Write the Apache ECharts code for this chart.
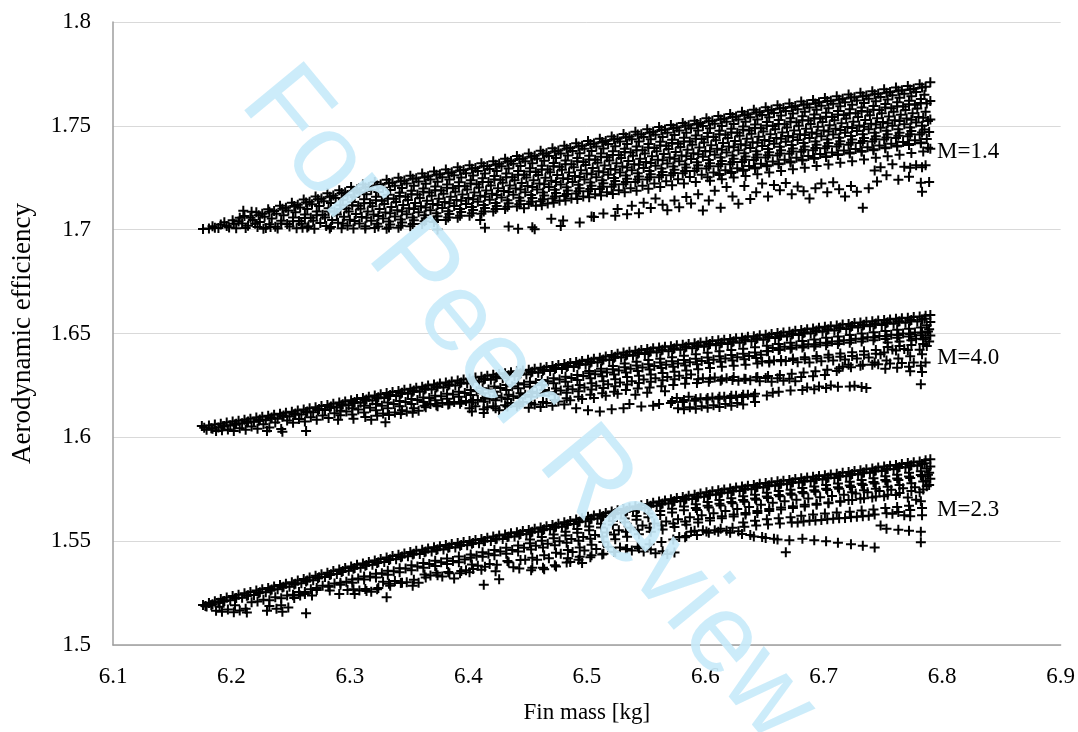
<!DOCTYPE html>
<html>
<head>
<meta charset="utf-8">
<script src="https://cdn.jsdelivr.net/npm/echarts@6/dist/echarts.min.js"></script>
<style>html,body{margin:0;padding:0;background:#fff}#chart{width:1078px;height:732px}</style>
</head>
<body>
<div id="chart"></div>
<script>
var xTicks = ['6.1','6.2','6.3','6.4','6.5','6.6','6.7','6.8','6.9'];
var yTicks = ['1.5','1.55','1.6','1.65','1.7','1.75','1.8'];
var groupNames = ['M=1.4','M=4.0','M=2.3'];

// M=1.4 cloud
var m14 = [
[6.176,1.7003],[6.181,1.7006],[6.186,1.7009],[6.184,1.7016],[6.191,1.7025],[6.189,1.7008],[6.196,1.7018],[6.194,1.7036],
[6.201,1.7045],[6.198,1.7010],[6.202,1.7029],[6.206,1.7039],[6.204,1.7007],[6.207,1.7057],
[6.211,1.7066],[6.209,1.7030],[6.212,1.7008],[6.210,1.7091],[6.216,1.7057],[6.214,1.7019],[6.217,1.7086],
[6.221,1.7084],[6.218,1.7047],[6.222,1.7013],[6.220,1.7029],[6.226,1.7077],[6.224,1.7037],[6.227,1.7005],
[6.231,1.7098],[6.228,1.7062],[6.232,1.7026],[6.229,1.7008],[6.236,1.7090],[6.234,1.7054],[6.237,1.7014],
[6.241,1.7115],[6.238,1.7077],[6.242,1.7043],[6.239,1.7006],[6.246,1.7105],[6.244,1.7069],[6.247,1.7027],
[6.251,1.7130],[6.248,1.7092],[6.252,1.7058],[6.249,1.7015],[6.256,1.7120],[6.254,1.7084],[6.257,1.7042],[6.255,1.7007],
[6.261,1.7145],[6.258,1.7107],[6.262,1.7073],[6.259,1.7028],[6.260,1.7009],[6.266,1.7135],[6.264,1.7099],[6.267,1.7057],[6.265,1.7017],
[6.271,1.7160],[6.268,1.7122],[6.272,1.7088],[6.269,1.7043],[6.270,1.7004],[6.276,1.7150],[6.274,1.7114],[6.277,1.7072],[6.275,1.7032],
[6.281,1.7175],[6.278,1.7137],[6.282,1.7103],[6.279,1.7058],[6.280,1.7018],[6.286,1.7165],[6.284,1.7129],[6.287,1.7087],[6.285,1.7047],[6.283,1.7006],
[6.291,1.7190],[6.288,1.7152],[6.292,1.7118],[6.289,1.7073],[6.290,1.7033],[6.293,1.7007],[6.296,1.7180],[6.294,1.7144],[6.297,1.7102],[6.295,1.7062],[6.298,1.7019],
[6.301,1.7205],[6.298,1.7167],[6.302,1.7133],[6.299,1.7088],[6.300,1.7048],[6.303,1.7006],[6.306,1.7193],[6.304,1.7157],[6.307,1.7115],[6.305,1.7075],[6.308,1.7030],
[6.311,1.7218],[6.308,1.7180],[6.312,1.7146],[6.309,1.7101],[6.310,1.7061],[6.313,1.7017],[6.316,1.7206],[6.314,1.7170],[6.317,1.7128],[6.315,1.7088],[6.318,1.7043],[6.313,1.7006],
[6.321,1.7230],[6.318,1.7192],[6.322,1.7158],[6.319,1.7113],[6.320,1.7073],[6.323,1.7029],[6.321,1.7008],[6.326,1.7217],[6.324,1.7181],[6.327,1.7139],[6.325,1.7099],[6.328,1.7054],[6.324,1.7015],
[6.331,1.7240],[6.328,1.7202],[6.332,1.7168],[6.329,1.7123],[6.330,1.7083],[6.333,1.7039],[6.331,1.7005],[6.336,1.7227],[6.334,1.7191],[6.337,1.7149],[6.335,1.7109],[6.338,1.7064],[6.334,1.7025],
[6.341,1.7250],[6.338,1.7212],[6.342,1.7178],[6.339,1.7133],[6.340,1.7093],[6.343,1.7049],[6.341,1.7009],[6.346,1.7237],[6.344,1.7201],[6.347,1.7159],[6.345,1.7119],[6.348,1.7074],[6.344,1.7035],
[6.351,1.7260],[6.348,1.7222],[6.352,1.7188],[6.349,1.7143],[6.350,1.7103],[6.353,1.7059],[6.351,1.7017],[6.356,1.7247],[6.354,1.7211],[6.357,1.7169],[6.355,1.7129],[6.358,1.7084],[6.354,1.7045],
[6.361,1.7270],[6.358,1.7232],[6.362,1.7198],[6.359,1.7153],[6.360,1.7113],[6.363,1.7069],[6.361,1.7027],[6.366,1.7257],[6.364,1.7221],[6.367,1.7179],[6.365,1.7139],[6.368,1.7094],[6.364,1.7055],
[6.371,1.7280],[6.368,1.7242],[6.372,1.7208],[6.369,1.7163],[6.370,1.7123],[6.373,1.7079],[6.371,1.7037],[6.374,1.7001],[6.376,1.7267],[6.374,1.7231],[6.377,1.7189],[6.375,1.7149],[6.378,1.7104],[6.374,1.7065],
[6.381,1.7290],[6.378,1.7252],[6.382,1.7218],[6.379,1.7173],[6.380,1.7133],[6.383,1.7089],[6.381,1.7047],[6.386,1.7277],[6.384,1.7241],[6.387,1.7199],[6.385,1.7159],[6.388,1.7114],[6.384,1.7075],
[6.391,1.7300],[6.388,1.7262],[6.392,1.7228],[6.389,1.7183],[6.390,1.7143],[6.393,1.7099],[6.391,1.7057],[6.396,1.7287],[6.394,1.7251],[6.397,1.7209],[6.395,1.7169],[6.398,1.7124],[6.394,1.7085],
[6.401,1.7310],[6.398,1.7272],[6.402,1.7238],[6.399,1.7193],[6.400,1.7153],[6.403,1.7109],[6.401,1.7067],[6.406,1.7297],[6.404,1.7261],[6.407,1.7219],[6.405,1.7179],[6.408,1.7134],[6.404,1.7095],
[6.411,1.7320],[6.408,1.7282],[6.412,1.7248],[6.409,1.7203],[6.410,1.7163],[6.413,1.7119],[6.411,1.7077],[6.410,1.7046],[6.414,1.7009],[6.416,1.7307],[6.414,1.7271],[6.417,1.7229],[6.415,1.7189],[6.418,1.7144],[6.414,1.7104],
[6.421,1.7330],[6.418,1.7292],[6.422,1.7258],[6.419,1.7213],[6.420,1.7173],[6.423,1.7129],[6.421,1.7087],[6.426,1.7318],[6.424,1.7282],[6.427,1.7240],[6.425,1.7200],[6.428,1.7155],[6.424,1.7114],
[6.431,1.7342],[6.428,1.7305],[6.432,1.7271],[6.429,1.7226],[6.430,1.7186],[6.433,1.7142],[6.431,1.7100],[6.434,1.7015],[6.436,1.7331],[6.434,1.7295],[6.437,1.7253],[6.435,1.7213],[6.438,1.7168],[6.434,1.7127],
[6.441,1.7355],[6.438,1.7317],[6.442,1.7283],[6.439,1.7238],[6.440,1.7198],[6.443,1.7154],[6.441,1.7112],[6.442,1.7004],[6.446,1.7343],[6.444,1.7307],[6.447,1.7265],[6.445,1.7225],[6.448,1.7180],[6.444,1.7139],[6.447,1.7103],
[6.451,1.7367],[6.448,1.7330],[6.452,1.7296],[6.449,1.7251],[6.450,1.7210],[6.453,1.7167],[6.451,1.7124],[6.454,1.7012],[6.456,1.7356],[6.454,1.7320],[6.457,1.7278],[6.455,1.7238],[6.458,1.7193],[6.454,1.7152],[6.457,1.7115],[6.456,1.7002],
[6.461,1.7380],[6.458,1.7342],[6.462,1.7308],[6.459,1.7263],[6.460,1.7222],[6.463,1.7179],[6.461,1.7137],[6.462,1.7118],[6.466,1.7368],[6.464,1.7332],[6.467,1.7290],[6.465,1.7250],[6.468,1.7205],[6.464,1.7164],[6.467,1.7126],
[6.471,1.7392],[6.468,1.7355],[6.472,1.7321],[6.469,1.7276],[6.470,1.7235],[6.473,1.7192],[6.471,1.7150],[6.472,1.7130],[6.470,1.7052],[6.476,1.7381],[6.474,1.7345],[6.477,1.7303],[6.475,1.7263],[6.478,1.7218],[6.474,1.7177],[6.477,1.7139],[6.478,1.7018],
[6.481,1.7404],[6.478,1.7367],[6.482,1.7333],[6.479,1.7288],[6.480,1.7247],[6.483,1.7204],[6.481,1.7162],[6.482,1.7140],[6.480,1.7044],[6.486,1.7393],[6.484,1.7357],[6.487,1.7315],[6.485,1.7275],[6.488,1.7230],[6.484,1.7189],[6.487,1.7150],
[6.491,1.7416],[6.488,1.7379],[6.492,1.7345],[6.489,1.7300],[6.490,1.7259],[6.493,1.7216],[6.491,1.7174],[6.492,1.7148],[6.494,1.7034],[6.496,1.7404],[6.494,1.7368],[6.497,1.7326],[6.495,1.7286],[6.498,1.7241],[6.494,1.7200],[6.497,1.7160],
[6.501,1.7427],[6.498,1.7390],[6.502,1.7356],[6.499,1.7311],[6.500,1.7270],[6.503,1.7227],[6.501,1.7185],[6.502,1.7156],[6.504,1.7063],[6.506,1.7415],[6.504,1.7379],[6.507,1.7337],[6.505,1.7297],[6.508,1.7252],[6.504,1.7211],[6.507,1.7170],[6.506,1.7061],
[6.511,1.7438],[6.508,1.7401],[6.512,1.7367],[6.509,1.7322],[6.510,1.7281],[6.513,1.7238],[6.511,1.7196],[6.512,1.7164],[6.514,1.7078],[6.516,1.7427],[6.514,1.7391],[6.517,1.7349],[6.515,1.7309],[6.518,1.7264],[6.514,1.7223],[6.517,1.7180],
[6.521,1.7449],[6.518,1.7412],[6.522,1.7378],[6.519,1.7333],[6.520,1.7292],[6.523,1.7249],[6.521,1.7207],[6.522,1.7172],[6.524,1.7067],[6.526,1.7438],[6.524,1.7402],[6.527,1.7360],[6.525,1.7320],[6.528,1.7275],[6.524,1.7234],[6.527,1.7190],[6.526,1.7100],
[6.531,1.7461],[6.528,1.7424],[6.532,1.7390],[6.529,1.7345],[6.530,1.7304],[6.533,1.7261],[6.531,1.7219],[6.532,1.7180],[6.534,1.7074],[6.536,1.7449],[6.534,1.7413],[6.537,1.7371],[6.535,1.7331],[6.538,1.7286],[6.534,1.7245],[6.537,1.7200],[6.538,1.7115],
[6.541,1.7472],[6.538,1.7435],[6.542,1.7401],[6.539,1.7356],[6.540,1.7315],[6.543,1.7272],[6.541,1.7230],[6.542,1.7188],[6.544,1.7079],[6.546,1.7460],[6.544,1.7424],[6.547,1.7382],[6.545,1.7342],[6.548,1.7297],[6.544,1.7256],[6.547,1.7211],[6.548,1.7130],
[6.551,1.7483],[6.548,1.7446],[6.552,1.7412],[6.549,1.7367],[6.550,1.7326],[6.553,1.7283],[6.551,1.7241],[6.552,1.7197],[6.554,1.7104],[6.556,1.7471],[6.554,1.7435],[6.557,1.7393],[6.555,1.7353],[6.558,1.7308],[6.554,1.7267],[6.557,1.7222],[6.558,1.7150],
[6.561,1.7494],[6.558,1.7457],[6.562,1.7423],[6.559,1.7378],[6.560,1.7337],[6.563,1.7294],[6.561,1.7252],[6.562,1.7205],[6.564,1.7120],[6.566,1.7482],[6.564,1.7446],[6.567,1.7404],[6.565,1.7364],[6.568,1.7319],[6.564,1.7278],[6.567,1.7233],[6.568,1.7094],
[6.571,1.7504],[6.568,1.7467],[6.572,1.7433],[6.569,1.7388],[6.570,1.7347],[6.573,1.7304],[6.571,1.7262],[6.572,1.7214],[6.574,1.7140],[6.576,1.7492],[6.574,1.7456],[6.577,1.7414],[6.575,1.7374],[6.578,1.7329],[6.574,1.7288],[6.577,1.7243],[6.578,1.7108],
[6.581,1.7514],[6.578,1.7477],[6.582,1.7443],[6.579,1.7398],[6.580,1.7357],[6.583,1.7314],[6.581,1.7272],[6.582,1.7222],[6.584,1.7157],[6.586,1.7503],[6.584,1.7467],[6.587,1.7425],[6.585,1.7385],[6.588,1.7340],[6.584,1.7299],[6.587,1.7254],[6.588,1.7126],
[6.591,1.7525],[6.588,1.7488],[6.592,1.7454],[6.589,1.7409],[6.590,1.7368],[6.593,1.7325],[6.591,1.7283],[6.592,1.7230],[6.594,1.7170],[6.596,1.7514],[6.594,1.7478],[6.597,1.7436],[6.595,1.7396],[6.598,1.7351],[6.594,1.7310],[6.597,1.7265],[6.598,1.7092],
[6.601,1.7536],[6.598,1.7499],[6.602,1.7465],[6.599,1.7420],[6.600,1.7379],[6.603,1.7336],[6.601,1.7294],[6.602,1.7252],[6.604,1.7236],[6.603,1.7140],[6.606,1.7524],[6.604,1.7488],[6.607,1.7446],[6.605,1.7406],[6.608,1.7361],[6.604,1.7320],[6.607,1.7275],[6.608,1.7188],
[6.611,1.7547],[6.608,1.7510],[6.612,1.7476],[6.609,1.7431],[6.610,1.7390],[6.613,1.7347],[6.611,1.7305],[6.612,1.7263],[6.614,1.7243],[6.613,1.7105],[6.616,1.7535],[6.614,1.7499],[6.617,1.7457],[6.615,1.7417],[6.618,1.7372],[6.614,1.7331],[6.617,1.7286],[6.618,1.7205],
[6.621,1.7557],[6.618,1.7520],[6.622,1.7486],[6.619,1.7441],[6.620,1.7400],[6.623,1.7357],[6.621,1.7315],[6.622,1.7273],[6.624,1.7251],[6.623,1.7160],[6.626,1.7545],[6.624,1.7509],[6.627,1.7467],[6.625,1.7427],[6.628,1.7382],[6.624,1.7341],[6.627,1.7296],[6.628,1.7125],
[6.631,1.7568],[6.628,1.7531],[6.632,1.7497],[6.629,1.7452],[6.630,1.7411],[6.633,1.7368],[6.631,1.7326],[6.632,1.7284],[6.634,1.7259],[6.633,1.7210],[6.636,1.7556],[6.634,1.7520],[6.637,1.7478],[6.635,1.7438],[6.638,1.7393],[6.634,1.7352],[6.637,1.7307],[6.638,1.7148],
[6.641,1.7578],[6.638,1.7541],[6.642,1.7507],[6.639,1.7462],[6.640,1.7421],[6.643,1.7378],[6.641,1.7336],[6.642,1.7294],[6.644,1.7267],[6.643,1.7180],[6.646,1.7566],[6.644,1.7530],[6.647,1.7488],[6.645,1.7448],[6.648,1.7403],[6.644,1.7362],[6.647,1.7317],[6.648,1.7222],
[6.651,1.7589],[6.648,1.7552],[6.652,1.7518],[6.649,1.7473],[6.650,1.7432],[6.653,1.7389],[6.651,1.7347],[6.652,1.7305],[6.654,1.7275],[6.653,1.7160],[6.656,1.7577],[6.654,1.7541],[6.657,1.7499],[6.655,1.7459],[6.658,1.7414],[6.654,1.7373],[6.657,1.7328],[6.658,1.7215],
[6.661,1.7599],[6.658,1.7562],[6.662,1.7528],[6.659,1.7483],[6.660,1.7442],[6.663,1.7399],[6.661,1.7357],[6.662,1.7315],[6.664,1.7283],[6.663,1.7190],[6.666,1.7586],[6.664,1.7550],[6.667,1.7508],[6.665,1.7468],[6.668,1.7423],[6.664,1.7382],[6.667,1.7337],[6.668,1.7225],
[6.671,1.7608],[6.668,1.7571],[6.672,1.7537],[6.669,1.7492],[6.670,1.7451],[6.673,1.7408],[6.671,1.7366],[6.672,1.7324],[6.674,1.7291],[6.673,1.7170],[6.676,1.7595],[6.674,1.7559],[6.677,1.7517],[6.675,1.7477],[6.678,1.7432],[6.674,1.7391],[6.677,1.7346],[6.678,1.7208],
[6.681,1.7617],[6.678,1.7580],[6.682,1.7546],[6.679,1.7501],[6.680,1.7460],[6.683,1.7417],[6.681,1.7375],[6.682,1.7333],[6.684,1.7298],[6.683,1.7185],[6.686,1.7604],[6.684,1.7568],[6.687,1.7526],[6.685,1.7486],[6.688,1.7441],[6.684,1.7400],[6.687,1.7355],[6.688,1.7150],
[6.691,1.7625],[6.688,1.7588],[6.692,1.7554],[6.689,1.7509],[6.690,1.7468],[6.693,1.7425],[6.691,1.7383],[6.692,1.7341],[6.694,1.7306],[6.693,1.7200],[6.696,1.7613],[6.694,1.7577],[6.697,1.7535],[6.695,1.7495],[6.698,1.7450],[6.694,1.7409],[6.697,1.7364],[6.698,1.7222],
[6.701,1.7634],[6.698,1.7597],[6.702,1.7563],[6.699,1.7518],[6.700,1.7477],[6.703,1.7434],[6.701,1.7392],[6.702,1.7350],[6.704,1.7314],[6.703,1.7180],[6.706,1.7621],[6.704,1.7585],[6.707,1.7543],[6.705,1.7503],[6.708,1.7458],[6.704,1.7417],[6.707,1.7372],[6.708,1.7228],
[6.711,1.7643],[6.708,1.7606],[6.712,1.7572],[6.709,1.7527],[6.710,1.7486],[6.713,1.7443],[6.711,1.7401],[6.712,1.7359],[6.714,1.7322],[6.713,1.7195],[6.716,1.7630],[6.714,1.7594],[6.717,1.7552],[6.715,1.7512],[6.718,1.7467],[6.714,1.7426],[6.717,1.7381],[6.718,1.7160],
[6.721,1.7651],[6.718,1.7614],[6.722,1.7580],[6.719,1.7535],[6.720,1.7494],[6.723,1.7451],[6.721,1.7409],[6.722,1.7367],[6.724,1.7330],[6.723,1.7210],[6.726,1.7638],[6.724,1.7602],[6.727,1.7560],[6.725,1.7520],[6.728,1.7475],[6.724,1.7434],[6.727,1.7389],[6.728,1.7182],
[6.731,1.7659],[6.728,1.7622],[6.732,1.7588],[6.729,1.7543],[6.730,1.7502],[6.733,1.7459],[6.731,1.7417],[6.732,1.7375],[6.734,1.7338],[6.733,1.7105],[6.736,1.7646],[6.734,1.7610],[6.737,1.7568],[6.735,1.7528],[6.738,1.7483],[6.734,1.7442],[6.737,1.7397],[6.738,1.7200],
[6.741,1.7667],[6.738,1.7630],[6.742,1.7596],[6.739,1.7551],[6.740,1.7510],[6.743,1.7467],[6.741,1.7425],[6.742,1.7383],[6.744,1.7346],[6.743,1.7285],[6.745,1.7232],[6.746,1.7654],[6.744,1.7618],[6.747,1.7576],[6.745,1.7536],[6.748,1.7491],[6.744,1.7450],[6.747,1.7405],[6.748,1.7300],
[6.751,1.7676],[6.748,1.7639],[6.752,1.7605],[6.749,1.7560],[6.750,1.7519],[6.753,1.7476],[6.751,1.7434],[6.752,1.7392],[6.754,1.7354],[6.753,1.7262],[6.756,1.7663],[6.754,1.7627],[6.757,1.7585],[6.755,1.7545],[6.758,1.7500],[6.754,1.7459],[6.757,1.7414],[6.758,1.7315],
[6.761,1.7684],[6.758,1.7647],[6.762,1.7613],[6.759,1.7568],[6.760,1.7527],[6.763,1.7484],[6.761,1.7442],[6.762,1.7400],[6.764,1.7361],[6.763,1.7240],[6.766,1.7671],[6.764,1.7635],[6.767,1.7593],[6.765,1.7553],[6.768,1.7508],[6.764,1.7467],[6.767,1.7422],[6.768,1.7303],
[6.771,1.7692],[6.768,1.7655],[6.772,1.7621],[6.769,1.7576],[6.770,1.7535],[6.773,1.7492],[6.771,1.7450],[6.772,1.7408],[6.774,1.7369],[6.773,1.7298],[6.772,1.7255],[6.776,1.7679],[6.774,1.7643],[6.777,1.7601],[6.775,1.7561],[6.778,1.7516],[6.774,1.7475],[6.777,1.7430],[6.778,1.7310],
[6.781,1.7700],[6.778,1.7663],[6.782,1.7629],[6.779,1.7584],[6.780,1.7543],[6.783,1.7500],[6.781,1.7458],[6.782,1.7416],[6.784,1.7377],[6.783,1.7300],[6.782,1.7226],[6.783,1.7182],
[6.786,1.7688],[6.785,1.7650],[6.787,1.7608],[6.786,1.7568],[6.788,1.7523],[6.785,1.7482],[6.787,1.7437],[6.788,1.7395],[6.786,1.7310],
[6.790,1.7710],[6.790,1.7620],[6.790,1.7530],[6.789,1.7470],[6.790,1.7390],[6.789,1.7230]
];
// M=1.4, second reading pass (between the first columns)
var m14b = [
[6.223,1.7070],[6.232,1.7086],[6.233,1.7013],[6.243,1.7101],[6.242,1.7030],[6.253,1.7114],[6.252,1.7040],
[6.263,1.7131],[6.262,1.7056],[6.264,1.7010],[6.273,1.7146],[6.272,1.7070],[6.283,1.7159],[6.282,1.7088],[6.284,1.7013],
[6.293,1.7176],[6.292,1.7100],[6.294,1.7030],[6.303,1.7188],[6.302,1.7117],[6.304,1.7042],[6.313,1.7203],[6.312,1.7127],[6.314,1.7057],
[6.323,1.7213],[6.322,1.7142],[6.324,1.7066],[6.333,1.7225],[6.332,1.7150],[6.334,1.7079],[6.333,1.7010],
[6.343,1.7233],[6.342,1.7162],[6.344,1.7087],[6.343,1.7019],[6.353,1.7245],[6.352,1.7170],[6.354,1.7099],[6.353,1.7027],
[6.363,1.7253],[6.362,1.7182],[6.364,1.7107],[6.363,1.7040],[6.373,1.7265],[6.372,1.7190],[6.374,1.7119],[6.373,1.7047],
[6.383,1.7273],[6.382,1.7202],[6.384,1.7127],[6.383,1.7059],[6.393,1.7285],[6.392,1.7210],[6.394,1.7139],[6.393,1.7067],
[6.403,1.7293],[6.402,1.7222],[6.404,1.7147],[6.403,1.7079],[6.413,1.7305],[6.412,1.7230],[6.414,1.7159],[6.413,1.7087],
[6.423,1.7313],[6.422,1.7242],[6.424,1.7167],[6.423,1.7099],[6.433,1.7327],[6.432,1.7253],[6.434,1.7181],[6.433,1.7110],
[6.443,1.7340],[6.442,1.7265],[6.444,1.7194],[6.443,1.7122],[6.453,1.7351],[6.452,1.7280],[6.454,1.7205],[6.453,1.7135],
[6.463,1.7365],[6.462,1.7290],[6.464,1.7219],[6.463,1.7147],[6.473,1.7376],[6.472,1.7305],[6.474,1.7230],[6.473,1.7160],
[6.483,1.7390],[6.482,1.7315],[6.484,1.7244],[6.483,1.7172],[6.493,1.7400],[6.492,1.7329],[6.494,1.7254],[6.493,1.7185],
[6.503,1.7413],[6.502,1.7338],[6.504,1.7267],[6.503,1.7196],[6.513,1.7422],[6.512,1.7351],[6.514,1.7276],[6.513,1.7207],
[6.523,1.7435],[6.522,1.7360],[6.524,1.7289],[6.523,1.7218],[6.533,1.7445],[6.532,1.7374],[6.534,1.7299],[6.533,1.7230],
[6.543,1.7458],[6.542,1.7383],[6.544,1.7312],[6.543,1.7241],[6.553,1.7467],[6.552,1.7396],[6.554,1.7321],[6.553,1.7252],
[6.563,1.7480],[6.562,1.7405],[6.564,1.7334],[6.563,1.7263],[6.573,1.7488],[6.572,1.7417],[6.574,1.7342],[6.573,1.7273],
[6.583,1.7500],[6.582,1.7425],[6.584,1.7354],[6.583,1.7283],[6.593,1.7509],[6.592,1.7438],[6.594,1.7363],[6.593,1.7294],
[6.603,1.7522],[6.602,1.7447],[6.604,1.7376],[6.603,1.7305],[6.613,1.7531],[6.612,1.7460],[6.614,1.7385],[6.613,1.7316],[6.612,1.7268],
[6.623,1.7543],[6.622,1.7468],[6.624,1.7397],[6.623,1.7326],[6.622,1.7278],[6.633,1.7552],[6.632,1.7481],[6.634,1.7406],[6.633,1.7337],[6.632,1.7289],
[6.643,1.7564],[6.642,1.7489],[6.644,1.7418],[6.643,1.7347],[6.642,1.7299],[6.653,1.7573],[6.652,1.7502],[6.654,1.7427],[6.653,1.7358],[6.652,1.7310],
[6.663,1.7584],[6.662,1.7509],[6.664,1.7438],[6.663,1.7367],[6.662,1.7319],[6.673,1.7591],[6.672,1.7520],[6.674,1.7445],[6.673,1.7376],[6.672,1.7328],
[6.683,1.7602],[6.682,1.7527],[6.684,1.7456],[6.683,1.7385],[6.682,1.7337],[6.693,1.7608],[6.692,1.7537],[6.694,1.7462],[6.693,1.7393],[6.692,1.7345],
[6.703,1.7619],[6.702,1.7544],[6.704,1.7473],[6.703,1.7402],[6.702,1.7354],[6.713,1.7626],[6.712,1.7555],[6.714,1.7480],[6.713,1.7411],[6.712,1.7363],
[6.723,1.7636],[6.722,1.7561],[6.724,1.7490],[6.723,1.7419],[6.722,1.7371],[6.733,1.7642],[6.732,1.7571],[6.734,1.7496],[6.733,1.7427],[6.732,1.7379],
[6.743,1.7652],[6.742,1.7577],[6.744,1.7506],[6.743,1.7435],[6.742,1.7387],[6.753,1.7659],[6.752,1.7588],[6.754,1.7513],[6.753,1.7444],[6.752,1.7396],
[6.763,1.7669],[6.762,1.7594],[6.764,1.7523],[6.763,1.7452],[6.762,1.7404],[6.773,1.7675],[6.772,1.7604],[6.774,1.7529],[6.773,1.7460],[6.772,1.7412],
[6.783,1.7685],[6.782,1.7610],[6.784,1.7539],[6.783,1.7468],[6.782,1.7420]
];

// M=4.0 cloud
var m40 = [
[6.175,1.6054],[6.177,1.6046],[6.181,1.6057],[6.179,1.6036],[6.186,1.6062],[6.184,1.6041],[6.187,1.6030],
[6.191,1.6066],[6.189,1.6047],[6.192,1.6034],[6.196,1.6071],[6.194,1.6055],[6.197,1.6038],
[6.201,1.6076],[6.199,1.6058],[6.202,1.6031],[6.206,1.6080],[6.204,1.6066],[6.207,1.6044],
[6.211,1.6085],[6.209,1.6068],[6.212,1.6036],[6.216,1.6090],[6.214,1.6076],[6.217,1.6052],
[6.221,1.6095],[6.219,1.6075],[6.222,1.6041],[6.226,1.6099],[6.224,1.6086],[6.227,1.6063],
[6.231,1.6104],[6.229,1.6082],[6.232,1.6047],[6.230,1.6030],[6.236,1.6109],[6.234,1.6096],[6.237,1.6072],
[6.241,1.6113],[6.239,1.6090],[6.242,1.6040],[6.243,1.6027],[6.246,1.6118],[6.244,1.6105],[6.247,1.6081],
[6.251,1.6123],[6.249,1.6100],[6.252,1.6070],[6.256,1.6129],[6.254,1.6115],[6.257,1.6088],
[6.261,1.6134],[6.259,1.6110],[6.262,1.6076],[6.263,1.6031],[6.266,1.6140],[6.264,1.6125],[6.267,1.6097],
[6.271,1.6145],[6.269,1.6121],[6.272,1.6085],[6.276,1.6151],[6.274,1.6137],[6.277,1.6105],
[6.281,1.6156],[6.279,1.6132],[6.282,1.6093],[6.286,1.6162],[6.284,1.6148],[6.287,1.6116],
[6.291,1.6168],[6.289,1.6144],[6.292,1.6106],[6.290,1.6085],[6.296,1.6173],[6.294,1.6159],[6.297,1.6125],
[6.301,1.6179],[6.299,1.6155],[6.302,1.6110],[6.303,1.6090],[6.306,1.6184],[6.304,1.6170],[6.307,1.6134],
[6.311,1.6190],[6.309,1.6166],[6.312,1.6120],[6.313,1.6098],[6.316,1.6196],[6.314,1.6182],[6.317,1.6143],[6.318,1.6085],
[6.321,1.6201],[6.319,1.6177],[6.322,1.6131],[6.323,1.6104],[6.326,1.6207],[6.324,1.6193],[6.327,1.6152],[6.328,1.6115],
[6.331,1.6213],[6.329,1.6189],[6.332,1.6140],[6.333,1.6108],[6.330,1.6073],[6.336,1.6218],[6.334,1.6204],[6.337,1.6160],[6.338,1.6120],
[6.341,1.6223],[6.339,1.6199],[6.342,1.6150],[6.343,1.6112],[6.346,1.6229],[6.344,1.6215],[6.347,1.6170],[6.348,1.6125],
[6.351,1.6234],[6.349,1.6210],[6.352,1.6160],[6.353,1.6118],[6.356,1.6239],[6.354,1.6225],[6.357,1.6180],[6.358,1.6128],
[6.361,1.6244],[6.359,1.6220],[6.362,1.6170],[6.363,1.6152],[6.366,1.6249],[6.364,1.6235],[6.367,1.6190],[6.368,1.6160],
[6.371,1.6254],[6.369,1.6230],[6.372,1.6178],[6.373,1.6155],[6.376,1.6259],[6.374,1.6245],[6.377,1.6198],[6.378,1.6165],
[6.381,1.6264],[6.379,1.6240],[6.382,1.6186],[6.383,1.6158],[6.386,1.6269],[6.384,1.6255],[6.387,1.6206],[6.388,1.6170],
[6.391,1.6274],[6.389,1.6250],[6.392,1.6195],[6.393,1.6162],[6.396,1.6278],[6.394,1.6264],[6.397,1.6214],[6.398,1.6175],
[6.401,1.6283],[6.399,1.6259],[6.402,1.6204],[6.403,1.6168],[6.401,1.6140],[6.406,1.6288],[6.404,1.6274],[6.407,1.6222],[6.408,1.6180],[6.406,1.6150],
[6.411,1.6292],[6.409,1.6268],[6.412,1.6212],[6.413,1.6172],[6.413,1.6117],[6.416,1.6296],[6.414,1.6282],[6.417,1.6230],[6.418,1.6186],[6.416,1.6145],
[6.421,1.6301],[6.419,1.6277],[6.422,1.6220],[6.423,1.6178],[6.421,1.6150],[6.426,1.6305],[6.424,1.6291],[6.427,1.6238],[6.428,1.6192],[6.426,1.6130],
[6.431,1.6309],[6.429,1.6285],[6.432,1.6228],[6.433,1.6184],[6.431,1.6155],[6.436,1.6313],[6.434,1.6299],[6.437,1.6246],[6.438,1.6198],[6.436,1.6165],
[6.441,1.6318],[6.439,1.6294],[6.442,1.6236],[6.443,1.6190],[6.441,1.6150],[6.446,1.6322],[6.444,1.6308],[6.447,1.6254],[6.448,1.6205],[6.446,1.6170],
[6.451,1.6326],[6.449,1.6302],[6.452,1.6244],[6.453,1.6196],[6.451,1.6142],[6.456,1.6330],[6.454,1.6316],[6.457,1.6262],[6.458,1.6212],[6.456,1.6158],
[6.461,1.6335],[6.459,1.6311],[6.462,1.6252],[6.463,1.6202],[6.461,1.6146],[6.466,1.6339],[6.464,1.6325],[6.467,1.6270],[6.468,1.6218],[6.466,1.6165],
[6.471,1.6343],[6.469,1.6319],[6.472,1.6260],[6.473,1.6208],[6.471,1.6152],[6.476,1.6348],[6.474,1.6334],[6.477,1.6278],[6.478,1.6225],[6.476,1.6172],
[6.481,1.6353],[6.479,1.6329],[6.482,1.6268],[6.483,1.6215],[6.481,1.6158],[6.486,1.6358],[6.484,1.6344],[6.487,1.6286],[6.488,1.6232],[6.486,1.6178],
[6.491,1.6363],[6.489,1.6339],[6.492,1.6276],[6.493,1.6222],[6.491,1.6140],[6.496,1.6368],[6.494,1.6354],[6.497,1.6295],[6.498,1.6240],[6.496,1.6185],
[6.501,1.6373],[6.499,1.6350],[6.502,1.6320],[6.503,1.6285],[6.504,1.6230],[6.501,1.6130],[6.506,1.6378],[6.504,1.6364],[6.507,1.6304],[6.508,1.6248],[6.506,1.6190],
[6.511,1.6383],[6.509,1.6360],[6.512,1.6330],[6.513,1.6294],[6.514,1.6238],[6.511,1.6125],[6.516,1.6389],[6.514,1.6375],[6.517,1.6312],[6.518,1.6256],[6.516,1.6200],
[6.521,1.6396],[6.519,1.6372],[6.522,1.6343],[6.523,1.6303],[6.524,1.6246],[6.521,1.6135],[6.526,1.6402],[6.524,1.6388],[6.527,1.6322],[6.528,1.6264],[6.526,1.6210],
[6.531,1.6408],[6.529,1.6384],[6.532,1.6355],[6.533,1.6312],[6.534,1.6255],[6.531,1.6140],[6.536,1.6412],[6.534,1.6398],[6.537,1.6330],[6.538,1.6270],[6.536,1.6160],
[6.541,1.6417],[6.539,1.6393],[6.542,1.6364],[6.543,1.6320],[6.544,1.6262],[6.541,1.6205],[6.546,1.6421],[6.544,1.6407],[6.547,1.6336],[6.548,1.6278],[6.546,1.6148],
[6.551,1.6425],[6.549,1.6401],[6.552,1.6372],[6.553,1.6327],[6.554,1.6268],[6.551,1.6215],[6.556,1.6429],[6.554,1.6415],[6.557,1.6344],[6.558,1.6284],[6.556,1.6152],
[6.561,1.6432],[6.559,1.6408],[6.562,1.6379],[6.563,1.6334],[6.564,1.6275],[6.561,1.6160],[6.566,1.6436],[6.564,1.6422],[6.567,1.6350],[6.568,1.6290],[6.566,1.6222],
[6.571,1.6439],[6.569,1.6415],[6.572,1.6386],[6.573,1.6340],[6.574,1.6280],[6.571,1.6165],[6.576,1.6443],[6.574,1.6429],[6.577,1.6356],[6.578,1.6296],[6.576,1.6190],[6.577,1.6140],
[6.581,1.6446],[6.579,1.6422],[6.582,1.6393],[6.583,1.6346],[6.584,1.6286],[6.581,1.6170],[6.582,1.6135],[6.586,1.6450],[6.584,1.6436],[6.587,1.6362],[6.588,1.6302],[6.586,1.6195],[6.587,1.6145],
[6.591,1.6453],[6.589,1.6429],[6.592,1.6400],[6.593,1.6352],[6.594,1.6280],[6.591,1.6176],[6.592,1.6138],[6.596,1.6457],[6.594,1.6443],[6.597,1.6368],[6.598,1.6285],[6.596,1.6188],[6.597,1.6150],
[6.601,1.6460],[6.599,1.6436],[6.602,1.6407],[6.603,1.6358],[6.604,1.6282],[6.601,1.6182],[6.602,1.6142],[6.606,1.6464],[6.604,1.6450],[6.607,1.6374],[6.608,1.6288],[6.606,1.6192],[6.607,1.6155],
[6.611,1.6467],[6.609,1.6443],[6.612,1.6414],[6.613,1.6364],[6.614,1.6278],[6.611,1.6186],[6.612,1.6146],[6.616,1.6470],[6.614,1.6456],[6.617,1.6380],[6.618,1.6284],[6.616,1.6196],[6.617,1.6160],
[6.621,1.6474],[6.619,1.6450],[6.622,1.6421],[6.623,1.6370],[6.624,1.6290],[6.621,1.6190],[6.622,1.6152],[6.626,1.6477],[6.624,1.6463],[6.627,1.6386],[6.628,1.6272],[6.626,1.6200],[6.627,1.6165],
[6.631,1.6480],[6.629,1.6456],[6.632,1.6427],[6.633,1.6376],[6.634,1.6281],[6.631,1.6194],[6.632,1.6158],[6.636,1.6484],[6.634,1.6470],[6.637,1.6392],[6.638,1.6275],[6.636,1.6205],
[6.641,1.6487],[6.639,1.6463],[6.642,1.6434],[6.643,1.6382],[6.644,1.6290],[6.641,1.6198],[6.642,1.6170],[6.646,1.6491],[6.644,1.6477],[6.647,1.6398],[6.648,1.6365],[6.646,1.6270],
[6.651,1.6494],[6.649,1.6470],[6.652,1.6441],[6.653,1.6416],[6.654,1.6368],[6.651,1.6286],[6.652,1.6202],[6.656,1.6498],[6.654,1.6484],[6.657,1.6430],[6.658,1.6370],[6.656,1.6268],[6.657,1.6215],
[6.661,1.6502],[6.659,1.6478],[6.662,1.6449],[6.663,1.6424],[6.664,1.6372],[6.661,1.6284],[6.662,1.6220],[6.666,1.6505],[6.664,1.6491],[6.667,1.6436],[6.668,1.6368],[6.666,1.6272],
[6.671,1.6509],[6.669,1.6485],[6.672,1.6456],[6.673,1.6431],[6.674,1.6372],[6.671,1.6282],[6.672,1.6225],[6.676,1.6513],[6.674,1.6499],[6.677,1.6442],[6.678,1.6362],[6.676,1.6270],
[6.681,1.6517],[6.679,1.6493],[6.682,1.6464],[6.683,1.6439],[6.684,1.6376],[6.681,1.6290],[6.682,1.6228],[6.686,1.6520],[6.684,1.6506],[6.687,1.6448],[6.688,1.6360],[6.686,1.6240],
[6.691,1.6524],[6.689,1.6500],[6.692,1.6471],[6.693,1.6446],[6.694,1.6380],[6.691,1.6294],[6.692,1.6232],[6.696,1.6528],[6.694,1.6514],[6.697,1.6455],[6.698,1.6366],[6.696,1.6245],
[6.701,1.6532],[6.699,1.6508],[6.702,1.6479],[6.703,1.6454],[6.704,1.6384],[6.701,1.6300],[6.702,1.6237],[6.706,1.6535],[6.704,1.6521],[6.707,1.6462],[6.708,1.6370],[6.706,1.6250],
[6.711,1.6539],[6.709,1.6515],[6.712,1.6486],[6.713,1.6461],[6.714,1.6388],[6.711,1.6320],[6.712,1.6244],[6.716,1.6543],[6.714,1.6529],[6.717,1.6468],[6.718,1.6375],[6.716,1.6340],
[6.721,1.6546],[6.719,1.6522],[6.722,1.6493],[6.723,1.6468],[6.724,1.6392],[6.721,1.6350],[6.722,1.6245],[6.726,1.6550],[6.724,1.6536],[6.727,1.6475],[6.728,1.6380],[6.726,1.6248],
[6.731,1.6553],[6.729,1.6529],[6.732,1.6500],[6.733,1.6475],[6.734,1.6398],[6.731,1.6345],[6.732,1.6242],[6.736,1.6556],[6.734,1.6542],[6.737,1.6482],[6.738,1.6385],[6.736,1.6238],
[6.741,1.6559],[6.739,1.6535],[6.742,1.6506],[6.743,1.6481],[6.744,1.6402],[6.741,1.6350],[6.746,1.6562],[6.744,1.6548],[6.747,1.6488],[6.748,1.6400],[6.746,1.6352],
[6.751,1.6565],[6.749,1.6541],[6.752,1.6512],[6.753,1.6487],[6.754,1.6457],[6.751,1.6408],[6.752,1.6330],[6.756,1.6568],[6.754,1.6554],[6.757,1.6494],[6.758,1.6423],[6.756,1.6355],
[6.761,1.6571],[6.759,1.6547],[6.762,1.6518],[6.763,1.6493],[6.764,1.6462],[6.761,1.6418],[6.762,1.6335],[6.766,1.6573],[6.764,1.6559],[6.767,1.6500],[6.768,1.6425],[6.766,1.6358],
[6.771,1.6576],[6.769,1.6552],[6.772,1.6523],[6.773,1.6498],[6.774,1.6468],[6.771,1.6420],[6.772,1.6340],[6.773,1.6318],[6.776,1.6579],[6.774,1.6565],[6.777,1.6505],[6.778,1.6475],[6.776,1.6360],
[6.781,1.6582],[6.779,1.6558],[6.782,1.6529],[6.783,1.6504],[6.784,1.6472],[6.781,1.6422],[6.782,1.6345],[6.783,1.6315],[6.782,1.6256],
[6.786,1.6585],[6.785,1.6571],[6.787,1.6540],[6.788,1.6510],[6.786,1.6480],[6.787,1.6440],[6.786,1.6360],
[6.790,1.6589],[6.790,1.6555],[6.789,1.6520],[6.790,1.6490],[6.789,1.6462]
];
// M=4.0, second reading pass
var m40b = [
[6.183,1.6044],[6.193,1.6053],[6.203,1.6062],[6.213,1.6071],[6.223,1.6080],[6.233,1.6091],[6.243,1.6099],[6.253,1.6110],
[6.263,1.6121],[6.273,1.6132],[6.283,1.6143],[6.293,1.6154],[6.292,1.6128],[6.303,1.6165],[6.302,1.6140],
[6.313,1.6177],[6.312,1.6152],[6.323,1.6188],[6.322,1.6160],[6.333,1.6199],[6.332,1.6168],
[6.343,1.6210],[6.342,1.6175],[6.344,1.6130],[6.353,1.6220],[6.352,1.6185],[6.354,1.6140],
[6.363,1.6230],[6.362,1.6192],[6.364,1.6145],[6.373,1.6240],[6.372,1.6200],[6.374,1.6150],
[6.383,1.6250],[6.382,1.6210],[6.384,1.6162],[6.393,1.6260],[6.392,1.6220],[6.394,1.6170],
[6.403,1.6269],[6.402,1.6228],[6.404,1.6180],[6.403,1.6125],[6.413,1.6278],[6.412,1.6236],[6.414,1.6190],[6.413,1.6135],
[6.423,1.6287],[6.422,1.6245],[6.424,1.6200],[6.423,1.6140],[6.433,1.6295],[6.432,1.6252],[6.434,1.6205],[6.433,1.6148],
[6.443,1.6304],[6.442,1.6260],[6.444,1.6212],[6.443,1.6160],[6.453,1.6312],[6.452,1.6268],[6.454,1.6220],[6.453,1.6165],
[6.463,1.6321],[6.462,1.6276],[6.464,1.6228],[6.463,1.6170],[6.473,1.6329],[6.472,1.6284],[6.474,1.6235],[6.473,1.6180],
[6.483,1.6339],[6.482,1.6292],[6.484,1.6245],[6.483,1.6188],[6.493,1.6349],[6.492,1.6300],[6.494,1.6252],[6.493,1.6195],
[6.503,1.6359],[6.502,1.6308],[6.504,1.6260],[6.503,1.6205],[6.513,1.6370],[6.512,1.6318],[6.514,1.6270],[6.513,1.6212],
[6.523,1.6383],[6.522,1.6328],[6.524,1.6280],[6.523,1.6220],[6.533,1.6394],[6.532,1.6338],[6.534,1.6290],[6.533,1.6228],
[6.543,1.6403],[6.542,1.6346],[6.544,1.6296],[6.543,1.6235],[6.553,1.6411],[6.552,1.6352],[6.554,1.6302],[6.553,1.6240],
[6.563,1.6418],[6.562,1.6360],[6.564,1.6310],[6.563,1.6246],[6.573,1.6425],[6.572,1.6366],[6.574,1.6316],[6.573,1.6252],[6.572,1.6175],
[6.583,1.6432],[6.582,1.6372],[6.584,1.6322],[6.583,1.6258],[6.582,1.6180],[6.593,1.6439],[6.592,1.6378],[6.594,1.6328],[6.593,1.6262],[6.592,1.6185],
[6.603,1.6446],[6.602,1.6384],[6.604,1.6334],[6.603,1.6268],[6.602,1.6190],[6.613,1.6453],[6.612,1.6390],[6.614,1.6340],[6.613,1.6272],[6.612,1.6195],
[6.623,1.6459],[6.622,1.6396],[6.624,1.6345],[6.623,1.6276],[6.622,1.6200],[6.633,1.6466],[6.632,1.6402],[6.634,1.6350],[6.633,1.6282],[6.632,1.6205],
[6.643,1.6473],[6.642,1.6408],[6.644,1.6356],[6.643,1.6288],[6.642,1.6210],[6.653,1.6480],[6.652,1.6414],[6.654,1.6360],[6.653,1.6295],
[6.663,1.6488],[6.662,1.6420],[6.664,1.6366],[6.663,1.6300],[6.673,1.6495],[6.672,1.6426],[6.674,1.6380],[6.673,1.6306],
[6.683,1.6503],[6.682,1.6432],[6.684,1.6386],[6.683,1.6312],[6.693,1.6510],[6.692,1.6438],[6.694,1.6392],[6.693,1.6318],
[6.703,1.6518],[6.702,1.6444],[6.704,1.6398],[6.703,1.6325],[6.713,1.6525],[6.712,1.6450],[6.714,1.6404],[6.713,1.6332],
[6.723,1.6532],[6.722,1.6456],[6.724,1.6410],[6.723,1.6338],[6.733,1.6538],[6.732,1.6462],[6.734,1.6415],[6.733,1.6350],
[6.743,1.6544],[6.742,1.6468],[6.744,1.6420],[6.743,1.6360],[6.753,1.6550],[6.752,1.6474],[6.754,1.6435],[6.753,1.6370],
[6.763,1.6556],[6.762,1.6480],[6.764,1.6440],[6.763,1.6380],[6.773,1.6561],[6.772,1.6486],[6.774,1.6445],[6.773,1.6390],
[6.783,1.6567],[6.782,1.6492],[6.784,1.6450],[6.783,1.6400]
];

// M=2.3 cloud
var m23 = [
[6.176,1.5193],[6.178,1.5188],[6.181,1.5202],[6.179,1.5185],[6.186,1.5211],[6.184,1.5196],[6.187,1.5165],
[6.191,1.5222],[6.189,1.5203],[6.192,1.5160],[6.190,1.5184],[6.196,1.5229],[6.194,1.5212],[6.197,1.5171],
[6.201,1.5236],[6.199,1.5215],[6.202,1.5158],[6.203,1.5192],[6.206,1.5242],[6.204,1.5226],[6.207,1.5166],
[6.211,1.5249],[6.209,1.5228],[6.212,1.5175],[6.213,1.5156],[6.216,1.5255],[6.214,1.5240],[6.217,1.5206],
[6.221,1.5262],[6.219,1.5241],[6.222,1.5210],[6.226,1.5269],[6.224,1.5254],[6.227,1.5218],
[6.231,1.5275],[6.229,1.5254],[6.232,1.5188],[6.230,1.5165],[6.236,1.5282],[6.234,1.5267],[6.237,1.5230],[6.238,1.5175],
[6.241,1.5289],[6.239,1.5268],[6.242,1.5192],[6.243,1.5160],[6.246,1.5295],[6.244,1.5280],[6.247,1.5238],[6.248,1.5180],
[6.251,1.5302],[6.249,1.5281],[6.252,1.5242],[6.253,1.5226],[6.256,1.5310],[6.254,1.5295],[6.257,1.5255],[6.258,1.5238],
[6.261,1.5318],[6.259,1.5297],[6.262,1.5245],[6.263,1.5153],[6.266,1.5325],[6.264,1.5310],[6.267,1.5268],[6.268,1.5238],
[6.271,1.5333],[6.269,1.5312],[6.272,1.5275],[6.276,1.5341],[6.274,1.5326],[6.277,1.5285],
[6.281,1.5348],[6.279,1.5327],[6.282,1.5280],[6.283,1.5262],[6.286,1.5356],[6.284,1.5341],[6.287,1.5296],
[6.291,1.5363],[6.289,1.5342],[6.292,1.5290],[6.291,1.5245],[6.296,1.5371],[6.294,1.5356],[6.297,1.5305],[6.298,1.5265],
[6.301,1.5378],[6.299,1.5357],[6.302,1.5300],[6.303,1.5268],[6.306,1.5386],[6.304,1.5371],[6.307,1.5320],[6.308,1.5262],
[6.311,1.5393],[6.309,1.5372],[6.312,1.5315],[6.313,1.5270],[6.316,1.5400],[6.314,1.5385],[6.317,1.5330],[6.318,1.5256],
[6.321,1.5407],[6.319,1.5386],[6.322,1.5325],[6.323,1.5268],[6.326,1.5414],[6.324,1.5399],[6.327,1.5345],[6.328,1.5305],
[6.331,1.5421],[6.329,1.5400],[6.332,1.5338],[6.333,1.5295],[6.331,1.5230],[6.336,1.5428],[6.334,1.5413],[6.337,1.5355],[6.338,1.5308],
[6.341,1.5434],[6.339,1.5413],[6.342,1.5350],[6.343,1.5298],[6.346,1.5441],[6.344,1.5426],[6.347,1.5368],[6.348,1.5302],
[6.351,1.5448],[6.349,1.5427],[6.352,1.5360],[6.353,1.5285],[6.356,1.5454],[6.354,1.5439],[6.357,1.5378],[6.358,1.5300],
[6.361,1.5459],[6.359,1.5438],[6.362,1.5372],[6.363,1.5340],[6.366,1.5465],[6.364,1.5450],[6.367,1.5390],[6.368,1.5335],
[6.371,1.5471],[6.369,1.5450],[6.372,1.5380],[6.373,1.5348],[6.376,1.5476],[6.374,1.5461],[6.377,1.5398],[6.378,1.5330],
[6.381,1.5481],[6.379,1.5460],[6.382,1.5390],[6.383,1.5352],[6.386,1.5486],[6.384,1.5471],[6.387,1.5405],[6.388,1.5320],
[6.391,1.5491],[6.389,1.5470],[6.392,1.5398],[6.393,1.5345],[6.396,1.5496],[6.394,1.5481],[6.397,1.5412],[6.398,1.5360],
[6.401,1.5501],[6.399,1.5480],[6.402,1.5420],[6.403,1.5388],[6.401,1.5350],[6.406,1.5506],[6.404,1.5491],[6.407,1.5430],[6.408,1.5382],
[6.411,1.5511],[6.409,1.5490],[6.412,1.5425],[6.413,1.5290],[6.411,1.5362],[6.416,1.5516],[6.414,1.5501],[6.417,1.5440],[6.418,1.5390],
[6.421,1.5522],[6.419,1.5501],[6.422,1.5432],[6.423,1.5355],[6.426,1.5527],[6.424,1.5512],[6.427,1.5450],[6.426,1.5317],
[6.431,1.5532],[6.429,1.5511],[6.432,1.5440],[6.433,1.5405],[6.436,1.5538],[6.434,1.5523],[6.437,1.5458],[6.438,1.5375],
[6.441,1.5543],[6.439,1.5522],[6.442,1.5450],[6.443,1.5368],[6.446,1.5549],[6.444,1.5534],[6.447,1.5468],[6.448,1.5410],
[6.451,1.5554],[6.449,1.5533],[6.452,1.5508],[6.453,1.5460],[6.454,1.5372],[6.456,1.5560],[6.454,1.5545],[6.457,1.5478],[6.458,1.5410],
[6.461,1.5566],[6.459,1.5545],[6.462,1.5520],[6.463,1.5470],[6.464,1.5365],[6.466,1.5572],[6.464,1.5557],[6.467,1.5488],[6.468,1.5418],
[6.471,1.5578],[6.469,1.5557],[6.472,1.5532],[6.473,1.5480],[6.474,1.5378],[6.476,1.5584],[6.474,1.5569],[6.477,1.5500],[6.478,1.5440],
[6.481,1.5591],[6.479,1.5570],[6.482,1.5545],[6.483,1.5492],[6.484,1.5418],[6.486,1.5597],[6.484,1.5582],[6.487,1.5510],[6.488,1.5448],[6.486,1.5400],
[6.491,1.5604],[6.489,1.5583],[6.492,1.5558],[6.493,1.5502],[6.494,1.5425],[6.496,1.5610],[6.494,1.5595],[6.497,1.5520],[6.498,1.5455],[6.496,1.5395],
[6.501,1.5617],[6.499,1.5596],[6.502,1.5571],[6.503,1.5512],[6.504,1.5432],[6.506,1.5623],[6.504,1.5608],[6.507,1.5530],[6.508,1.5462],
[6.511,1.5630],[6.509,1.5609],[6.512,1.5584],[6.513,1.5522],[6.514,1.5440],[6.516,1.5636],[6.514,1.5621],[6.517,1.5542],[6.518,1.5472],
[6.521,1.5643],[6.519,1.5622],[6.522,1.5597],[6.523,1.5532],[6.524,1.5448],[6.526,1.5649],[6.524,1.5634],[6.527,1.5552],[6.528,1.5470],
[6.531,1.5655],[6.529,1.5634],[6.532,1.5609],[6.533,1.5545],[6.534,1.5462],[6.536,1.5661],[6.534,1.5646],[6.537,1.5565],[6.538,1.5455],
[6.541,1.5667],[6.539,1.5646],[6.542,1.5621],[6.543,1.5555],[6.544,1.5466],[6.546,1.5673],[6.544,1.5658],[6.547,1.5575],[6.548,1.5450],
[6.551,1.5679],[6.549,1.5658],[6.552,1.5633],[6.553,1.5565],[6.554,1.5460],[6.556,1.5685],[6.554,1.5670],[6.557,1.5585],[6.558,1.5442],
[6.561,1.5691],[6.559,1.5670],[6.562,1.5645],[6.563,1.5575],[6.564,1.5452],[6.566,1.5696],[6.564,1.5681],[6.567,1.5595],[6.568,1.5438],
[6.571,1.5702],[6.569,1.5681],[6.572,1.5656],[6.573,1.5585],[6.574,1.5445],[6.576,1.5708],[6.574,1.5693],[6.577,1.5605],[6.578,1.5520],
[6.581,1.5713],[6.579,1.5692],[6.582,1.5667],[6.583,1.5595],[6.584,1.5525],[6.586,1.5719],[6.584,1.5704],[6.587,1.5615],[6.588,1.5545],
[6.591,1.5724],[6.589,1.5703],[6.592,1.5678],[6.593,1.5650],[6.594,1.5605],[6.591,1.5550],[6.596,1.5729],[6.594,1.5714],[6.597,1.5625],[6.598,1.5552],
[6.601,1.5735],[6.599,1.5714],[6.602,1.5689],[6.603,1.5662],[6.604,1.5612],[6.601,1.5547],[6.606,1.5740],[6.604,1.5725],[6.607,1.5635],[6.608,1.5553],
[6.611,1.5745],[6.609,1.5724],[6.612,1.5698],[6.613,1.5672],[6.614,1.5620],[6.611,1.5545],[6.616,1.5749],[6.614,1.5734],[6.617,1.5645],[6.618,1.5550],
[6.621,1.5754],[6.619,1.5733],[6.622,1.5707],[6.623,1.5682],[6.624,1.5628],[6.621,1.5540],[6.626,1.5758],[6.624,1.5743],[6.627,1.5655],[6.628,1.5548],
[6.631,1.5763],[6.629,1.5742],[6.632,1.5716],[6.633,1.5690],[6.634,1.5636],[6.631,1.5535],[6.632,1.5590],[6.636,1.5767],[6.634,1.5752],[6.637,1.5665],[6.638,1.5530],
[6.641,1.5771],[6.639,1.5750],[6.642,1.5724],[6.643,1.5699],[6.644,1.5645],[6.641,1.5522],[6.642,1.5598],[6.646,1.5776],[6.644,1.5761],[6.647,1.5675],[6.648,1.5520],
[6.651,1.5780],[6.649,1.5759],[6.652,1.5733],[6.653,1.5708],[6.654,1.5655],[6.651,1.5515],[6.652,1.5605],[6.656,1.5784],[6.654,1.5769],[6.657,1.5685],[6.658,1.5512],
[6.661,1.5788],[6.659,1.5767],[6.662,1.5741],[6.663,1.5716],[6.664,1.5662],[6.661,1.5508],[6.662,1.5610],[6.666,1.5791],[6.664,1.5776],[6.667,1.5692],[6.668,1.5447],
[6.671,1.5795],[6.669,1.5774],[6.672,1.5748],[6.673,1.5723],[6.674,1.5668],[6.671,1.5505],[6.672,1.5615],[6.676,1.5799],[6.674,1.5784],[6.677,1.5700],[6.678,1.5590],
[6.681,1.5803],[6.679,1.5782],[6.682,1.5756],[6.683,1.5731],[6.684,1.5675],[6.681,1.5622],[6.682,1.5512],[6.686,1.5806],[6.684,1.5791],[6.687,1.5706],[6.688,1.5598],
[6.691,1.5810],[6.689,1.5789],[6.692,1.5763],[6.693,1.5738],[6.694,1.5680],[6.691,1.5628],[6.692,1.5505],[6.696,1.5814],[6.694,1.5799],[6.697,1.5712],[6.698,1.5602],
[6.701,1.5818],[6.699,1.5797],[6.702,1.5771],[6.703,1.5746],[6.704,1.5686],[6.701,1.5633],[6.702,1.5500],[6.706,1.5821],[6.704,1.5806],[6.707,1.5718],[6.708,1.5608],
[6.711,1.5825],[6.709,1.5804],[6.712,1.5778],[6.713,1.5753],[6.714,1.5692],[6.711,1.5638],[6.712,1.5492],[6.716,1.5829],[6.714,1.5814],[6.717,1.5724],[6.718,1.5612],
[6.721,1.5833],[6.719,1.5812],[6.722,1.5786],[6.723,1.5761],[6.724,1.5736],[6.721,1.5698],[6.722,1.5642],[6.723,1.5485],[6.726,1.5838],[6.724,1.5823],[6.727,1.5730],[6.728,1.5618],
[6.731,1.5842],[6.729,1.5821],[6.732,1.5795],[6.733,1.5770],[6.734,1.5745],[6.731,1.5704],[6.732,1.5648],[6.733,1.5478],[6.736,1.5846],[6.734,1.5831],[6.737,1.5735],[6.738,1.5622],
[6.741,1.5850],[6.739,1.5829],[6.742,1.5803],[6.743,1.5778],[6.744,1.5753],[6.741,1.5710],[6.742,1.5652],[6.743,1.5470],[6.746,1.5855],[6.744,1.5840],[6.747,1.5742],[6.748,1.5575],
[6.751,1.5859],[6.749,1.5838],[6.752,1.5812],[6.753,1.5787],[6.754,1.5762],[6.751,1.5716],[6.752,1.5660],[6.753,1.5560],[6.756,1.5863],[6.754,1.5848],[6.757,1.5748],[6.758,1.5632],
[6.761,1.5867],[6.759,1.5846],[6.762,1.5820],[6.763,1.5795],[6.764,1.5770],[6.761,1.5722],[6.762,1.5665],[6.763,1.5555],[6.766,1.5872],[6.764,1.5857],[6.767,1.5755],[6.768,1.5625],
[6.771,1.5876],[6.769,1.5855],[6.772,1.5829],[6.773,1.5804],[6.774,1.5779],[6.771,1.5710],[6.772,1.5670],[6.773,1.5620],[6.772,1.5550],[6.776,1.5880],[6.774,1.5865],[6.777,1.5760],[6.778,1.5700],
[6.781,1.5884],[6.779,1.5863],[6.782,1.5837],[6.783,1.5812],[6.784,1.5787],[6.781,1.5735],[6.782,1.5692],[6.783,1.5625],[6.782,1.5545],[6.782,1.5495],
[6.786,1.5890],[6.785,1.5875],[6.787,1.5850],[6.788,1.5820],[6.786,1.5790],[6.787,1.5765],
[6.790,1.5894],[6.790,1.5860],[6.789,1.5830],[6.790,1.5800],[6.789,1.5770]
];
// M=2.3, second reading pass
var m23b = [
[6.183,1.5191],[6.193,1.5210],[6.203,1.5224],[6.213,1.5237],[6.223,1.5250],[6.233,1.5263],[6.232,1.5215],
[6.243,1.5277],[6.242,1.5225],[6.253,1.5291],[6.252,1.5240],[6.263,1.5306],[6.262,1.5255],[6.273,1.5322],[6.272,1.5265],
[6.283,1.5337],[6.282,1.5285],[6.293,1.5352],[6.292,1.5300],[6.303,1.5367],[6.302,1.5315],[6.304,1.5245],
[6.313,1.5382],[6.312,1.5330],[6.314,1.5260],[6.323,1.5395],[6.322,1.5343],[6.324,1.5275],[6.333,1.5409],[6.332,1.5357],[6.334,1.5285],
[6.343,1.5422],[6.342,1.5370],[6.344,1.5300],[6.353,1.5436],[6.352,1.5384],[6.354,1.5314],[6.363,1.5447],[6.362,1.5395],[6.364,1.5325],
[6.373,1.5458],[6.372,1.5406],[6.374,1.5336],[6.383,1.5468],[6.382,1.5416],[6.384,1.5346],[6.393,1.5478],[6.392,1.5426],[6.394,1.5356],
[6.403,1.5488],[6.402,1.5436],[6.404,1.5366],[6.413,1.5499],[6.412,1.5447],[6.414,1.5377],[6.423,1.5509],[6.422,1.5457],[6.424,1.5387],
[6.433,1.5520],[6.432,1.5468],[6.434,1.5398],[6.443,1.5531],[6.442,1.5479],[6.444,1.5409],
[6.453,1.5542],[6.452,1.5490],[6.454,1.5420],[6.453,1.5360],[6.463,1.5554],[6.462,1.5502],[6.464,1.5432],[6.463,1.5372],
[6.473,1.5566],[6.472,1.5514],[6.474,1.5444],[6.473,1.5384],[6.483,1.5579],[6.482,1.5527],[6.484,1.5457],[6.483,1.5397],
[6.493,1.5592],[6.492,1.5540],[6.494,1.5470],[6.493,1.5410],[6.503,1.5605],[6.502,1.5553],[6.504,1.5483],[6.503,1.5423],
[6.513,1.5618],[6.512,1.5566],[6.514,1.5496],[6.513,1.5436],[6.523,1.5631],[6.522,1.5579],[6.524,1.5509],[6.523,1.5449],
[6.533,1.5643],[6.532,1.5591],[6.534,1.5521],[6.533,1.5461],[6.543,1.5655],[6.542,1.5603],[6.544,1.5533],[6.543,1.5473],
[6.553,1.5667],[6.552,1.5615],[6.554,1.5545],[6.553,1.5485],[6.563,1.5678],[6.562,1.5626],[6.564,1.5556],[6.563,1.5496],
[6.573,1.5690],[6.572,1.5638],[6.574,1.5568],[6.573,1.5508],[6.583,1.5701],[6.582,1.5649],[6.584,1.5579],[6.583,1.5519],
[6.593,1.5712],[6.592,1.5660],[6.594,1.5590],[6.593,1.5530],[6.603,1.5722],[6.602,1.5670],[6.604,1.5600],[6.603,1.5540],
[6.613,1.5732],[6.612,1.5680],[6.614,1.5610],[6.613,1.5560],[6.623,1.5741],[6.622,1.5689],[6.624,1.5619],[6.623,1.5565],
[6.633,1.5750],[6.632,1.5698],[6.634,1.5628],[6.633,1.5570],[6.643,1.5758],[6.642,1.5706],[6.644,1.5636],[6.643,1.5575],
[6.653,1.5767],[6.652,1.5715],[6.654,1.5645],[6.653,1.5580],[6.663,1.5774],[6.662,1.5722],[6.664,1.5652],[6.663,1.5585],
[6.673,1.5782],[6.672,1.5730],[6.674,1.5660],[6.673,1.5590],[6.683,1.5789],[6.682,1.5737],[6.684,1.5667],[6.683,1.5595],
[6.693,1.5797],[6.692,1.5745],[6.694,1.5675],[6.693,1.5600],[6.703,1.5804],[6.702,1.5752],[6.704,1.5682],[6.703,1.5605],
[6.713,1.5812],[6.712,1.5760],[6.714,1.5690],[6.713,1.5610],[6.723,1.5820],[6.722,1.5768],[6.724,1.5698],[6.723,1.5615],
[6.733,1.5829],[6.732,1.5777],[6.734,1.5707],[6.733,1.5620],[6.743,1.5837],[6.742,1.5785],[6.744,1.5715],[6.743,1.5628],
[6.753,1.5846],[6.752,1.5794],[6.754,1.5724],[6.753,1.5635],[6.763,1.5854],[6.762,1.5802],[6.764,1.5732],[6.763,1.5640],
[6.773,1.5863],[6.772,1.5811],[6.774,1.5741],[6.773,1.5650],[6.783,1.5871],[6.782,1.5819],[6.784,1.5749],[6.783,1.5660]
];

var serif = '"Liberation Serif", "Times New Roman", serif';
// "+" marker
var plus = 'path://M6.4,0H9.6V6.4H16V9.6H9.6V16H6.4V9.6H0V6.4H6.4Z';

function cloud(name, data) {
    return {
        type: 'scatter',
        name: name,
        data: data,
        symbol: plus,
        symbolSize: 10,
        itemStyle: { color: '#000', opacity: 1 },
        silent: true
    };
}

var myChart = echarts.init(document.getElementById('chart'));
myChart.setOption({
    animation: false,
    backgroundColor: '#fff',
    grid: { left: 113, right: 15, top: 22, bottom: 87 },
    xAxis: {
        type: 'value', min: 6.1, max: 6.9, interval: 0.1,
        name: 'Fin mass [kg]', nameLocation: 'middle', nameGap: 56,
        nameTextStyle: { fontFamily: serif, fontSize: 23, color: '#000' },
        axisLine: { show: true, lineStyle: { color: '#9e9e9e', width: 1.5 } },
        axisTick: { show: false },
        splitLine: { show: false },
        axisLabel: { fontFamily: serif, fontSize: 23, color: '#000', margin: 20,
            formatter: function (v, i) { return xTicks[i] !== undefined ? xTicks[i] : v.toFixed(1); } }
    },
    yAxis: {
        type: 'value', min: 1.5, max: 1.8, interval: 0.05,
        name: 'Aerodynamic efficiency', nameLocation: 'middle', nameGap: 77,
        nameTextStyle: { fontFamily: serif, fontSize: 27, color: '#000' },
        axisLine: { show: true, lineStyle: { color: '#9e9e9e', width: 1.5 } },
        axisTick: { show: false },
        splitLine: { show: true, lineStyle: { color: '#d9d9d9', width: 1 } },
        axisLabel: { fontFamily: serif, fontSize: 23, color: '#000', margin: 22,
            formatter: function (v, i) { return yTicks[i] !== undefined ? yTicks[i] : String(v); } }
    },
    series: [
        cloud(groupNames[0], m14), cloud(groupNames[0], m14b),
        cloud(groupNames[1], m40), cloud(groupNames[1], m40b),
        cloud(groupNames[2], m23), cloud(groupNames[2], m23b)
    ],
    graphic: [
        { type: 'text', left: 937, top: 140, style: { text: groupNames[0], font: '23px ' + serif, fill: '#000' } },
        { type: 'text', left: 937, top: 346, style: { text: groupNames[1], font: '23px ' + serif, fill: '#000' } },
        { type: 'text', left: 937, top: 498, style: { text: groupNames[2], font: '23px ' + serif, fill: '#000' } },
        { type: 'text', x: 528, y: 405, rotation: -0.88, z: 100, silent: true,
          style: { text: 'For Peer Review', font: '112px "Liberation Sans", Arial, sans-serif',
                   fill: 'rgba(200,234,250,0.92)', align: 'center', verticalAlign: 'middle' } }
    ]
});
</script>
</body>
</html>
